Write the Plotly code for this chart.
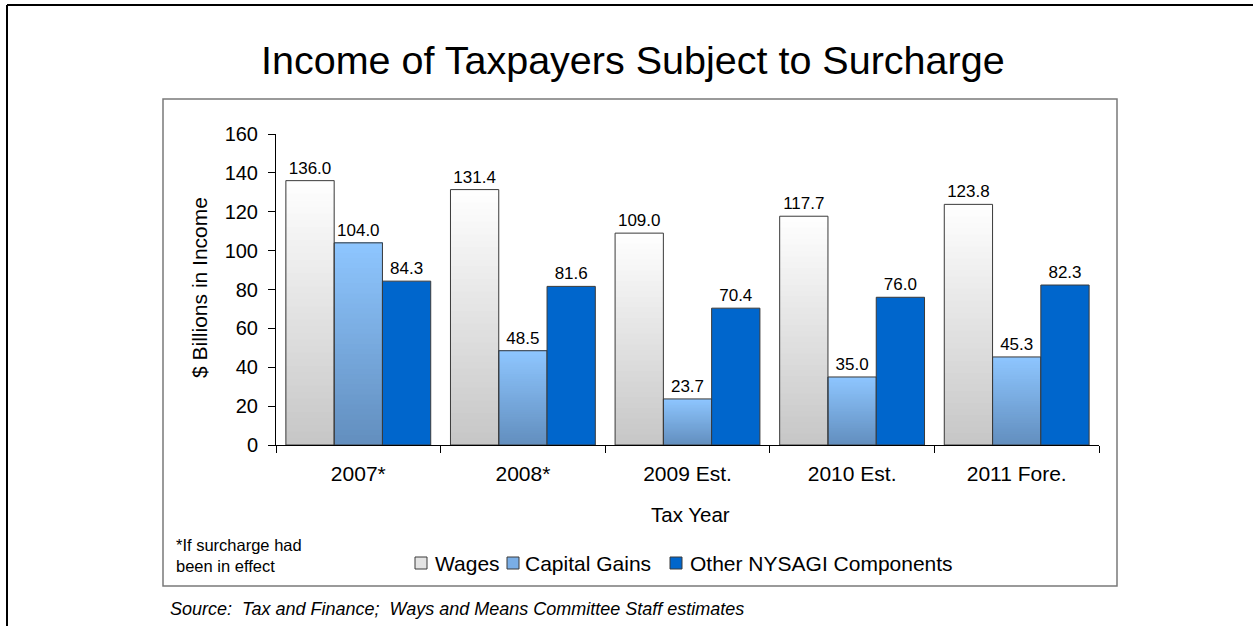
import plotly.graph_objects as go

# Tax years and income components ($ billions)
years = ["2007*", "2008*", "2009 Est.", "2010 Est.", "2011 Fore."]
wages = [136.0, 131.4, 109.0, 117.7, 123.8]
capital_gains = [104.0, 48.5, 23.7, 35.0, 45.3]
other_components = [84.3, 81.6, 70.4, 76.0, 82.3]

series_names = ["Wages", "Capital Gains", "Other NYSAGI Components"]

# Plot-area geometry in pixels
W, H = 1253, 626
L, R, T, B = 276, 1099, 134, 445
PW, PH = R - L, B - T


def px(x):
    return (x - L) / PW


def py(y):
    return (B - y) / PH


def mix(c1, c2, t):
    return "rgb(%d,%d,%d)" % tuple(round(a + (b - a) * t) for a, b in zip(c1, c2))


FONT = "Liberation Sans, Arial, sans-serif"
NARROW = "Liberation Sans Narrow, Arial Narrow, Liberation Sans, sans-serif"
OUTLINE = "#3a3a3a"
N_SLICES = 40

fig = go.Figure()

# Vertical gradient fills: each slice runs from its base up to the bar top,
# so later slices overlap without seams
gradients = {
    "Wages": (wages, (255, 255, 255), (198, 198, 198)),
    "Capital Gains": (capital_gains, (142, 198, 255), (98, 142, 190)),
}
for name, (vals, top, bottom) in gradients.items():
    for i in range(N_SLICES):
        t = (i + 0.5) / N_SLICES  # 0 at bottom, 1 at top
        fig.add_trace(go.Bar(
            x=years,
            y=[v * (N_SLICES - i) / N_SLICES for v in vals],
            base=[v * i / N_SLICES for v in vals],
            offsetgroup=name,
            marker=dict(color=mix(bottom, top, t), line=dict(width=0)),
            showlegend=False,
            hoverinfo="skip",
        ))

# Outlined bars with value labels
for name, vals in zip(series_names, [wages, capital_gains, other_components]):
    fill = "#0066cc" if name == "Other NYSAGI Components" else "rgba(0,0,0,0)"
    fig.add_trace(go.Bar(
        x=years,
        y=vals,
        offsetgroup=name,
        marker=dict(color=fill, line=dict(color=OUTLINE, width=1)),
        text=["%.1f" % v for v in vals],
        textposition="outside",
        textfont=dict(size=17, color="#000000", family=FONT),
        cliponaxis=False,
        showlegend=False,
        name=name,
    ))

# Legend: swatch positions and colours
legend_swatch_x = [415, 507, 670]
legend_text_x = [433, 523, 688]
legend_colors = ["#e4e4e4", "#7aaee6", "#0066cc"]
LEG_Y = 563

shapes = [
    # outer frame (top and left edges)
    dict(type="line", xref="paper", yref="paper",
         x0=px(7), x1=px(W + 5), y0=py(5), y1=py(5),
         line=dict(color="#000000", width=2)),
    dict(type="line", xref="paper", yref="paper",
         x0=px(7), x1=px(7), y0=py(5), y1=py(H + 5),
         line=dict(color="#000000", width=2)),
    # chart box
    dict(type="rect", xref="paper", yref="paper",
         x0=px(163), x1=px(1117), y0=py(99), y1=py(586),
         line=dict(color="#7a7a7a", width=1.5), layer="below"),
]
annotations = [
    dict(text="Income of Taxpayers Subject to Surcharge",
         xref="paper", yref="paper", x=px(633), y=py(60),
         xanchor="center", yanchor="middle", showarrow=False,
         font=dict(size=39.5, family=FONT)),
    dict(text="$ Billions in Income",
         xref="paper", yref="paper", x=px(199), y=py(288),
         xanchor="center", yanchor="middle", textangle=-90, showarrow=False,
         font=dict(size=21, family=FONT)),
    dict(text="Tax Year",
         xref="paper", yref="paper", x=px(690), y=py(514),
         xanchor="center", yanchor="middle", showarrow=False,
         font=dict(size=20.5, family=FONT)),
    dict(text="*If surcharge had<br>been in effect",
         xref="paper", yref="paper", x=px(174), y=py(555),
         xanchor="left", yanchor="middle", align="left", showarrow=False,
         font=dict(size=16.5, family=NARROW)),
    dict(text="<i>Source:  Tax and Finance;  Ways and Means Committee Staff estimates</i>",
         xref="paper", yref="paper", x=px(168), y=py(609),
         xanchor="left", yanchor="middle", align="left", showarrow=False,
         font=dict(size=18, family=NARROW)),
]
for name, sx, tx, col in zip(series_names, legend_swatch_x, legend_text_x, legend_colors):
    shapes.append(dict(type="rect", xref="paper", yref="paper",
                       x0=px(sx), x1=px(sx + 12), y0=py(LEG_Y - 6), y1=py(LEG_Y + 6),
                       fillcolor=col, line=dict(color=OUTLINE, width=1)))
    annotations.append(dict(text=name, xref="paper", yref="paper",
                            x=px(tx), y=py(LEG_Y), xanchor="left", yanchor="middle",
                            showarrow=False, font=dict(size=21, family=FONT)))

fig.update_layout(
    width=W,
    height=H,
    margin=dict(l=L, r=W - R, t=T, b=H - B, pad=0),
    paper_bgcolor="white",
    plot_bgcolor="white",
    barmode="group",
    bargap=0.12,
    bargroupgap=0,
    font=dict(family=FONT, color="#000000"),
    showlegend=False,
    xaxis=dict(
        type="category",
        showline=True, linecolor="#000000", linewidth=1,
        ticks="outside", tickson="boundaries", ticklen=7, tickcolor="#000000",
        tickfont=dict(size=21, family=FONT),
        ticklabelstandoff=10,
        showgrid=False, zeroline=False,
        fixedrange=True,
    ),
    yaxis=dict(
        range=[0, 160], dtick=20, tick0=0,
        showline=True, linecolor="#000000", linewidth=1,
        ticks="outside", ticklen=7, tickcolor="#000000",
        tickfont=dict(size=20, family=FONT),
        ticklabelstandoff=6,
        showgrid=False, zeroline=False,
        fixedrange=True,
    ),
    shapes=shapes,
    annotations=annotations,
)

fig.write_html("out.html")
